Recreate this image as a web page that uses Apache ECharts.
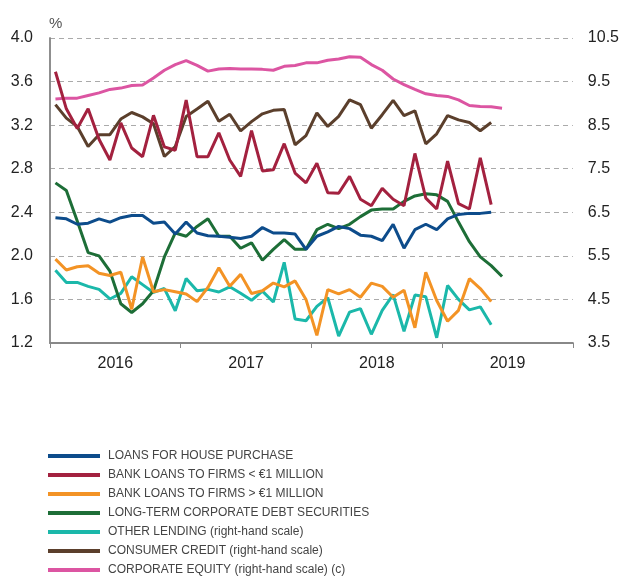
<!DOCTYPE html>
<html>
<head>
<meta charset="utf-8">
<script src="https://cdn.jsdelivr.net/npm/echarts@6/dist/echarts.min.js"></script>
<style>
  html, body { margin: 0; padding: 0; background: #fff; }
  #echart { width: 622px; height: 576px; }
</style>
</head>
<body>
<div id="echart"></div>
<script>
// monthly data, Jan 2016 onwards
var years = ['2016', '2017', '2018', '2019'];

var housePurchase = [2.35,2.34,2.29,2.30,2.34,2.31,2.35,2.37,2.37,2.30,
  2.31,2.20,2.31,2.21,2.185,2.18,2.17,2.16,2.18,2.26,
  2.21,2.21,2.20,2.06,2.18,2.22,2.27,2.25,2.19,2.18,
  2.14,2.29,2.07,2.24,2.29,2.24,2.34,2.38,2.39,2.39,
  2.40];
var firmsSmall = [3.69,3.35,3.17,3.35,3.07,2.88,3.22,2.99,2.91,3.29,
  3.00,2.97,3.43,2.91,2.91,3.13,2.88,2.73,3.15,2.78,
  2.79,3.03,2.76,2.67,2.85,2.58,2.575,2.73,2.52,2.46,
  2.62,2.52,2.46,2.94,2.53,2.43,2.87,2.48,2.43,2.90,
  2.47];
var firmsLarge = [1.97,1.87,1.90,1.91,1.84,1.82,1.85,1.51,1.99,1.67,
  1.69,1.67,1.65,1.58,1.71,1.89,1.72,1.83,1.655,1.68,
  1.75,1.715,1.77,1.60,1.27,1.69,1.65,1.69,1.62,1.75,
  1.72,1.62,1.685,1.34,1.85,1.59,1.40,1.50,1.79,1.70,
  1.58];
var debtSecurities = [2.67,2.60,2.32,2.03,2.00,1.86,1.56,1.48,1.56,1.68,
  1.99,2.21,2.18,2.27,2.34,2.18,2.18,2.07,2.12,1.96,
  2.06,2.15,2.06,2.06,2.24,2.29,2.25,2.29,2.36,2.42,
  2.43,2.43,2.50,2.55,2.57,2.56,2.50,2.31,2.13,1.99,
  1.91,1.81];
var otherLending = [5.17,4.89,4.89,4.80,4.73,4.51,4.64,5.02,4.84,4.66,
  4.75,4.24,4.98,4.70,4.73,4.67,4.79,4.64,4.48,4.69,
  4.44,5.35,4.05,4.01,4.34,4.54,3.66,4.21,4.29,3.70,
  4.25,4.61,3.77,4.60,4.56,3.62,4.82,4.50,4.26,4.33,
  3.92];
var consumerCredit = [8.97,8.66,8.47,8.01,8.28,8.28,8.64,8.79,8.69,8.53,
  7.78,8.01,8.70,8.87,9.05,8.59,8.75,8.37,8.58,8.76,
  8.84,8.86,8.05,8.26,8.78,8.47,8.70,9.08,8.97,8.43,
  8.74,9.07,8.72,8.83,8.07,8.30,8.72,8.62,8.56,8.37,
  8.56];
var corporateEquity = [9.10,9.12,9.12,9.18,9.24,9.32,9.35,9.41,9.42,9.58,
  9.76,9.89,9.98,9.87,9.74,9.79,9.80,9.79,9.79,9.78,
  9.76,9.85,9.87,9.93,9.93,9.99,10.02,10.07,10.06,9.89,
  9.76,9.56,9.43,9.32,9.22,9.18,9.16,9.08,8.95,8.93,
  8.92,8.89];

var names = [
  'LOANS FOR HOUSE PURCHASE',
  'BANK LOANS TO FIRMS < €1 MILLION',
  'BANK LOANS TO FIRMS > €1 MILLION',
  'LONG-TERM CORPORATE DEBT SECURITIES',
  'OTHER LENDING (right-hand scale)',
  'CONSUMER CREDIT (right-hand scale)',
  'CORPORATE EQUITY (right-hand scale) (c)'
];
var colors = ['#0d4c8b', '#a3213f', '#f39325', '#1d6e37', '#1bb8aa', '#5b3f2c', '#dc55a2'];
var allData = [housePurchase, firmsSmall, firmsLarge, debtSecurities, otherLending, consumerCredit, corporateEquity];
var rightHand = [false, false, false, false, true, true, true];

// month index -> middle of the month on the x scale
function toPoints(arr) {
  var out = [];
  for (var i = 0; i < arr.length; i++) {
    out.push([i + 0.5, arr[i]]);
  }
  return out;
}

var myChart = echarts.init(document.getElementById('echart'));

var series = [];
for (var s = 0; s < allData.length; s++) {
  series.push({
    name: names[s],
    type: 'line',
    xAxisIndex: 0,
    yAxisIndex: rightHand[s] ? 1 : 0,
    data: toPoints(allData[s]),
    showSymbol: false,
    lineStyle: { width: 3, color: colors[s] },
    itemStyle: { color: colors[s] },
    z: 10 - s
  });
}

var labelFont = { color: '#222', fontSize: 16, fontFamily: 'Liberation Sans, Arial, sans-serif' };

var option = {
  animation: false,
  grid: { left: 50, right: 49, top: 38, bottom: 233 },
  graphic: [{
    type: 'text',
    left: 49,
    top: 16,
    style: { text: '%', fill: '#555', font: '15px Liberation Sans, Arial, sans-serif' }
  }],
  legend: {
    orient: 'vertical',
    left: 43,
    top: 444,
    height: 300,
    icon: 'rect',
    itemWidth: 52,
    itemHeight: 4,
    itemGap: 5,
    textStyle: {
      color: '#444',
      fontSize: 12,
      lineHeight: 14,
      fontFamily: 'Liberation Sans, Arial, sans-serif',
      padding: [0, 0, 0, 3]
    },
    data: names
  },
  xAxis: [{
    type: 'value',
    min: 0,
    max: 48,
    interval: 12,
    axisLine: { lineStyle: { color: '#888', width: 2 } },
    axisTick: { show: true, length: 5, lineStyle: { color: '#888', width: 1 } },
    axisLabel: { show: false },
    splitLine: { show: false }
  }, {
    type: 'value',
    position: 'bottom',
    min: 0,
    max: 48,
    interval: 6,
    axisLine: { show: false },
    axisTick: { show: false },
    splitLine: { show: false },
    axisLabel: Object.assign({
      margin: 13,
      formatter: function (v) {
        if (v % 12 === 6) return years[(v - 6) / 12];
        return '';
      }
    }, labelFont)
  }],
  yAxis: [{
    type: 'value',
    min: 1.2,
    max: 4.0,
    interval: 0.4,
    axisLine: { show: true, lineStyle: { color: '#888', width: 1.5 } },
    axisTick: { show: false },
    axisLabel: Object.assign({
      margin: 17,
      formatter: function (v) { return v.toFixed(1); }
    }, labelFont),
    splitLine: { lineStyle: { color: '#aaa', type: [5, 4], width: 1 } }
  }, {
    type: 'value',
    min: 3.5,
    max: 10.5,
    interval: 1,
    position: 'right',
    axisLine: { show: true, lineStyle: { color: '#888', width: 1.5 } },
    axisTick: { show: false },
    axisLabel: Object.assign({
      margin: 15,
      formatter: function (v) { return v.toFixed(1); }
    }, labelFont),
    splitLine: { show: false }
  }],
  series: series
};

myChart.setOption(option);
</script>
</body>
</html>
